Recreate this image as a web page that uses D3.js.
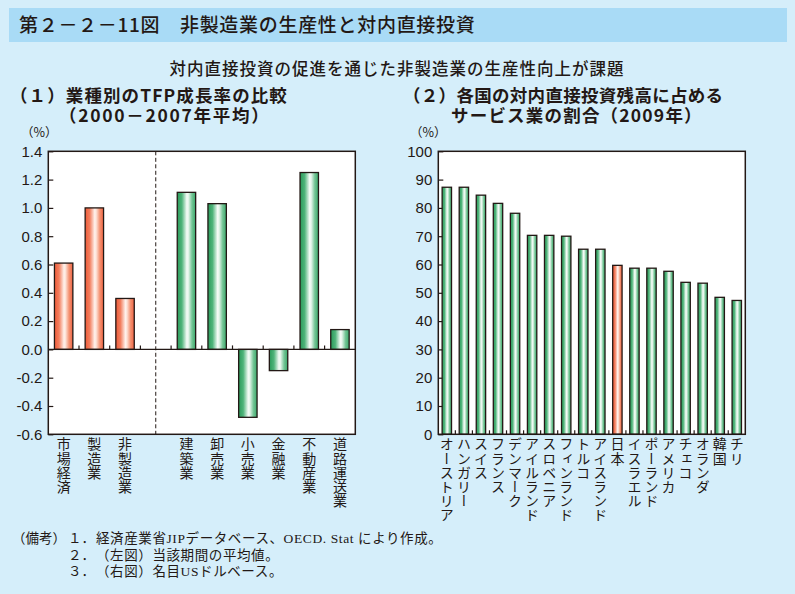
<!DOCTYPE html>
<html><head><meta charset="utf-8">
<script src="https://cdn.jsdelivr.net/npm/d3@7"></script>
<style>
html,body{margin:0;padding:0;background:#d5eefa;}
svg{display:block;}
</style></head>
<body>
<svg id="c" width="795" height="594"></svg>
<script>
// ---- data ----
const leftCategories = ["市場経済","製造業","非製造業","","建築業","卸売業","小売業","金融業","不動産業","道路運送業"];
const leftValues = [0.61, 1.00, 0.36, null, 1.11, 1.03, -0.48, -0.15, 1.25, 0.14];
const leftGroup = ["red","red","red",null,"green","green","green","green","green","green"];
const leftTicks = [-0.6,-0.4,-0.2,0.0,0.2,0.4,0.6,0.8,1.0,1.2,1.4];
const leftTickLabels = ["-0.6","-0.4","-0.2","0.0","0.2","0.4","0.6","0.8","1.0","1.2","1.4"];

const rightCategories = ["オーストリア","ハンガリー","スイス","フランス","デンマーク","アイルランド","スロベニア","フィンランド","トルコ","アイスランド","日本","イスラエル","ポーランド","アメリカ","チェコ","オランダ","韓国","チリ"];
const rightValues = [87.3, 87.3, 84.5, 81.6, 78.1, 70.3, 70.3, 70.0, 65.4, 65.4, 59.7, 58.7, 58.7, 57.6, 53.7, 53.4, 48.4, 47.3];
const rightHighlight = "日本";
const rightTicks = [0,10,20,30,40,50,60,70,80,90,100];

const titleText = "第２－２－11図　非製造業の生産性と対内直接投資";
const subtitleText = "対内直接投資の促進を通じた非製造業の生産性向上が課題";
const panel1Title = ["（１）業種別のTFP成長率の比較","（2000－2007年平均）"];
const panel2Title = ["（２）各国の対内直接投資残高に占める","サービス業の割合（2009年）"];
const notes = [["（備考）","１．","経済産業省JIPデータベース、OECD. Stat により作成。"],["","２．","（左図）当該期間の平均値。"],["","３．","（右図）名目USドルベース。"]];

// ---- drawing ----
const svg = d3.select("#c");
const ink = "#231815";
const cjk = "'Noto Sans CJK JP','Noto Sans',sans-serif";
const latin = "'Liberation Sans',Arial,sans-serif";

svg.append("rect").attr("x",0).attr("y",0).attr("width",795).attr("height",594).attr("fill","#d5eefa");
svg.append("rect").attr("x",9).attr("y",8).attr("width",778).attr("height",34).attr("fill","#a9dbf6");
svg.append("text").attr("x",19).attr("y",32).attr("font-family",cjk).attr("font-size",19).attr("font-weight",500)
  .attr("fill",ink).attr("letter-spacing",0.7).text(titleText);
svg.append("text").attr("x",397).attr("y",75).attr("text-anchor","middle").attr("font-family",cjk).attr("font-size",16.5)
  .attr("font-weight",500).attr("fill",ink).attr("letter-spacing",1).text(subtitleText);

function panelTitle(lines, x1, x2, ls1, ls2){
  const t = svg.append("text").attr("font-family",cjk).attr("font-size",17.5).attr("font-weight",700).attr("fill",ink);
  t.append("tspan").attr("x",x1).attr("y",102).attr("letter-spacing",ls1).text(lines[0]);
  t.append("tspan").attr("x",x2).attr("y",122).attr("letter-spacing",ls2).text(lines[1]);
}
panelTitle(panel1Title, 10, 59, 1.1, 1.7);
panelTitle(panel2Title, 403, 451, 0.3, 1.2);

// gradients
const defs = svg.append("defs");
function grad(id, stops){
  const g = defs.append("linearGradient").attr("id",id).attr("x1","0%").attr("x2","100%").attr("y1","0%").attr("y2","0%");
  stops.forEach(s=>g.append("stop").attr("offset",s[0]).attr("stop-color",s[1]));
}
grad("gGreen",[["0%","#2a9a5a"],["25%","#4fb47a"],["52%","#f4fbf6"],["60%","#e8f6ed"],["80%","#74c595"],["100%","#3aa86a"]]);
grad("gRed",[["0%","#ee5a38"],["25%","#f27e5e"],["52%","#fff2ec"],["60%","#fde3d8"],["80%","#f4906f"],["100%","#ef6444"]]);

const plotTop = 151.3, plotBottom = 434.3;

function vertLabel(g, x, y, str){
  g.append("text").attr("x",x).attr("y",y).attr("font-family",cjk).attr("font-size",14)
    .attr("fill",ink).style("writing-mode","vertical-rl").attr("letter-spacing",0.2).text(str);
}

// ---- left chart ----
{
  const x0 = 48.3, x1 = 355.3;
  const xs = d3.scaleBand().domain(d3.range(leftCategories.length)).range([x0,x1]).paddingInner(0.4).paddingOuter(0.2);
  const step = xs.step();
  const ys = d3.scaleLinear().domain([-0.6,1.4]).range([plotBottom,plotTop]);
  const g = svg.append("g");
  g.append("rect").attr("x",x0).attr("y",plotTop).attr("width",x1-x0).attr("height",plotBottom-plotTop).attr("fill","#fff");
  const ya = d3.axisLeft(ys).tickValues(leftTicks).tickSize(-5).tickPadding(6).tickFormat((d,i)=>leftTickLabels[i]);
  const yg = g.append("g").attr("transform",`translate(${x0},0)`).call(ya);
  yg.select(".domain").remove();
  yg.selectAll("line").attr("stroke",ink).attr("stroke-width",1.2);
  yg.selectAll("text").attr("font-family",latin).attr("font-size",15).attr("fill",ink);
  leftValues.forEach((v,i)=>{
    if(v===null) return;
    g.append("rect").attr("x",xs(i)).attr("width",xs.bandwidth())
      .attr("y",ys(Math.max(0,v))).attr("height",Math.abs(ys(v)-ys(0)))
      .attr("fill",leftGroup[i]==="red"?"url(#gRed)":"url(#gGreen)")
      .attr("stroke",ink).attr("stroke-width",1.3);
  });
  g.append("line").attr("x1",x0).attr("x2",x1).attr("y1",ys(0)).attr("y2",ys(0)).attr("stroke",ink).attr("stroke-width",1.3);
  d3.range(1,leftCategories.length).forEach(k=>{
    const xx = x0 + step*k;
    g.append("line").attr("x1",xx).attr("x2",xx).attr("y1",ys(0)).attr("y2",ys(0)-4).attr("stroke",ink).attr("stroke-width",1.2);
  });
  const sepX = xs(3)+xs.bandwidth()/2;
  g.append("line").attr("x1",sepX).attr("x2",sepX).attr("y1",plotTop).attr("y2",plotBottom).attr("stroke",ink)
    .attr("stroke-width",1).attr("stroke-dasharray","4,2.5");
  g.append("rect").attr("x",x0).attr("y",plotTop).attr("width",x1-x0).attr("height",plotBottom-plotTop).attr("fill","none")
    .attr("stroke",ink).attr("stroke-width",1.5);
  g.append("text").attr("x",21).attr("y",137).attr("font-family",cjk).attr("font-size",12.5).attr("fill",ink).text("（%）");
  leftCategories.forEach((c,i)=>{ if(c) vertLabel(g, xs(i)+xs.bandwidth()/2, 437, c); });
}

// ---- right chart ----
{
  const x0 = 438.3, x1 = 745.3;
  const xs = d3.scaleBand().domain(rightCategories).range([x0,x1]).paddingInner(0.45).paddingOuter(0.225);
  const step = xs.step();
  const ys = d3.scaleLinear().domain([0,100]).range([plotBottom,plotTop]);
  const g = svg.append("g");
  g.append("rect").attr("x",x0).attr("y",plotTop).attr("width",x1-x0).attr("height",plotBottom-plotTop).attr("fill","#fff");
  const ya = d3.axisLeft(ys).tickValues(rightTicks).tickSize(-5).tickPadding(6).tickFormat(d3.format("d"));
  const yg = g.append("g").attr("transform",`translate(${x0},0)`).call(ya);
  yg.select(".domain").remove();
  yg.selectAll("line").attr("stroke",ink).attr("stroke-width",1.2);
  yg.selectAll("text").attr("font-family",latin).attr("font-size",15).attr("fill",ink);
  rightCategories.forEach((c,i)=>{
    const v = rightValues[i];
    g.append("rect").attr("x",xs(c)).attr("width",xs.bandwidth())
      .attr("y",ys(v)).attr("height",ys(0)-ys(v))
      .attr("fill",c===rightHighlight?"url(#gRed)":"url(#gGreen)")
      .attr("stroke",ink).attr("stroke-width",1.3);
  });
  d3.range(1,rightCategories.length).forEach(k=>{
    const xx = x0 + step*k;
    g.append("line").attr("x1",xx).attr("x2",xx).attr("y1",plotBottom).attr("y2",plotBottom-4).attr("stroke",ink).attr("stroke-width",1.2);
  });
  g.append("rect").attr("x",x0).attr("y",plotTop).attr("width",x1-x0).attr("height",plotBottom-plotTop).attr("fill","none")
    .attr("stroke",ink).attr("stroke-width",1.5);
  g.append("text").attr("x",410).attr("y",137).attr("font-family",cjk).attr("font-size",12.5).attr("fill",ink).text("（%）");
  rightCategories.forEach(c=>vertLabel(g, xs(c)+xs.bandwidth()/2, 437, c));
}

// ---- notes ----
const serif = "'Liberation Serif','DejaVu Serif','Noto Sans CJK JP',serif";
notes.forEach((n,i)=>{
  const y = 543 + i*16.5;
  svg.append("text").attr("x",12).attr("y",y).attr("font-family",serif).attr("font-size",13.5).attr("fill",ink).text(n[0]);
  svg.append("text").attr("x",68).attr("y",y).attr("font-family",serif).attr("font-size",13.5).attr("fill",ink).text(n[1]);
  svg.append("text").attr("x",96).attr("y",y).attr("font-family",serif).attr("font-size",13.5).attr("fill",ink)
    .attr("letter-spacing",0.6).text(n[2]);
});
</script>
</body></html>
